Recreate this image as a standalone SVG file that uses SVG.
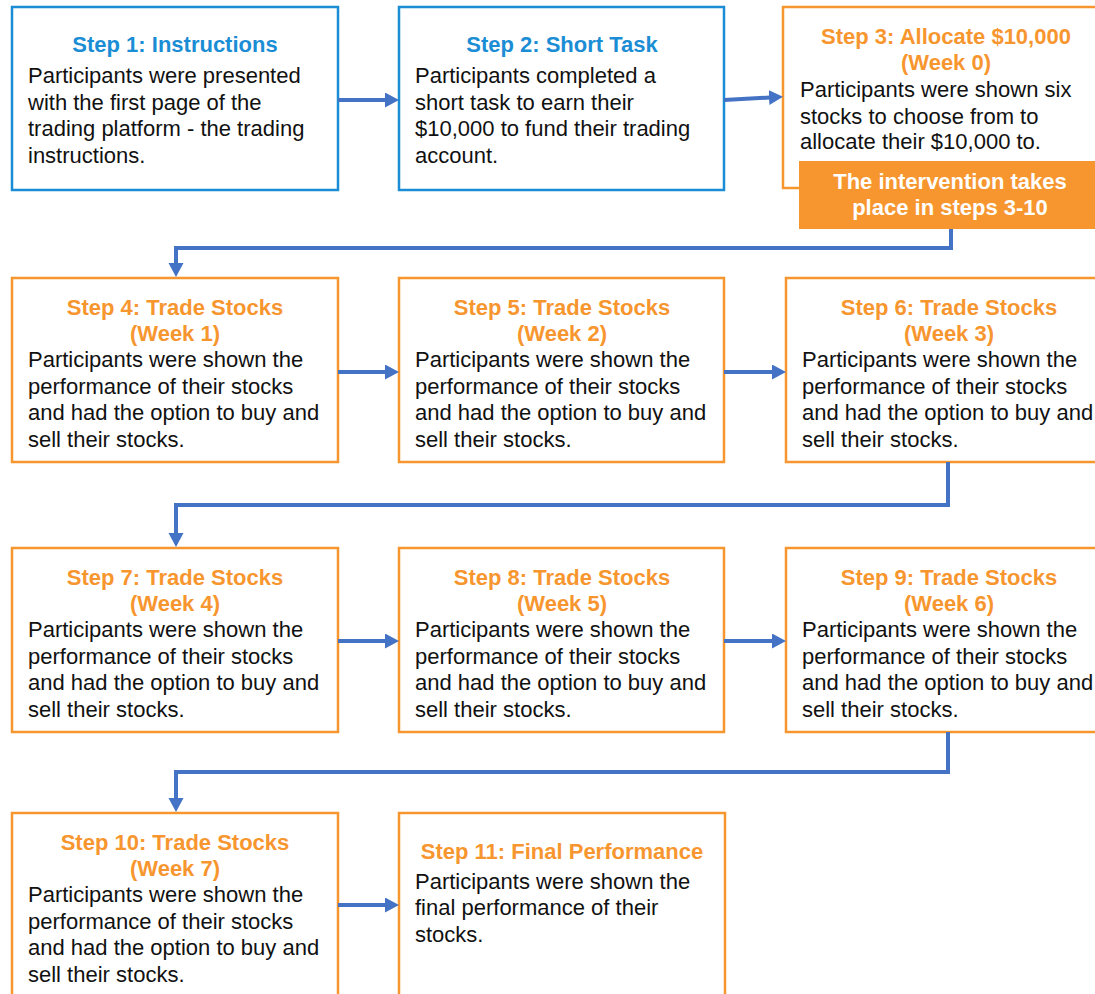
<svg xmlns="http://www.w3.org/2000/svg" width="1095" height="994" viewBox="0 0 1095 994">
<style>
.box{fill:#fff;stroke-width:2.5}
.bl{stroke:#1B8DD5}
.or{stroke:#F7962F}
.t{font-family:"Liberation Sans",Arial,sans-serif;font-size:22px;font-weight:bold;text-anchor:middle}
.tb{fill:#1B8DD5}
.to{fill:#F7962F}
.b{font-family:"Liberation Sans",Arial,sans-serif;font-size:22px;fill:#111}
.w{font-family:"Liberation Sans",Arial,sans-serif;font-size:22px;font-weight:bold;fill:#fff;text-anchor:middle}
.c{fill:none;stroke:#4472C4;stroke-width:4}
</style>
<defs>
<marker id="ah" markerUnits="userSpaceOnUse" markerWidth="16" markerHeight="16" refX="1" refY="7.5" orient="auto">
<path d="M0,0 L14,7.5 L0,15 z" fill="#4472C4"/>
</marker>
</defs>
<rect width="1095" height="994" fill="#fff"/>
<g id="step1">
<rect class="box bl" x="12" y="7" width="326" height="183"/>
<text class="t tb" x="175" y="52">Step 1: Instructions</text>
<text class="b" x="28" y="83">Participants were presented</text>
<text class="b" x="28" y="110">with the first page of the</text>
<text class="b" x="28" y="136">trading platform - the trading</text>
<text class="b" x="28" y="163">instructions.</text>
</g>
<g id="step2">
<rect class="box bl" x="399" y="7" width="325" height="183"/>
<text class="t tb" x="562" y="52">Step 2: Short Task</text>
<text class="b" x="415" y="83">Participants completed a</text>
<text class="b" x="415" y="110">short task to earn their</text>
<text class="b" x="415" y="136">$10,000 to fund their trading</text>
<text class="b" x="415" y="163">account.</text>
</g>
<g id="step3">
<rect class="box or" x="783" y="7" width="326" height="181"/>
<text class="t to" x="946" y="44">Step 3: Allocate $10,000</text>
<text class="t to" x="946" y="70">(Week 0)</text>
<text class="b" x="800" y="97">Participants were shown six</text>
<text class="b" x="800" y="124">stocks to choose from to</text>
<text class="b" x="800" y="149">allocate their $10,000 to.</text>
</g>
<g id="banner">
<rect x="799" y="161" width="302" height="68" fill="#F7962F"/>
<text class="w" x="950" y="189">The intervention takes</text>
<text class="w" x="950" y="215">place in steps 3-10</text>
</g>
<g id="step4">
<rect class="box or" x="12" y="278" width="326" height="184"/>
<text class="t to" x="175" y="315">Step 4: Trade Stocks</text>
<text class="t to" x="175" y="341">(Week 1)</text>
<text class="b" x="28" y="367">Participants were shown the</text>
<text class="b" x="28" y="394">performance of their stocks</text>
<text class="b" x="28" y="420">and had the option to buy and</text>
<text class="b" x="28" y="447">sell their stocks.</text>
</g>
<g id="step5">
<rect class="box or" x="399" y="278" width="325" height="184"/>
<text class="t to" x="562" y="315">Step 5: Trade Stocks</text>
<text class="t to" x="562" y="341">(Week 2)</text>
<text class="b" x="415" y="367">Participants were shown the</text>
<text class="b" x="415" y="394">performance of their stocks</text>
<text class="b" x="415" y="420">and had the option to buy and</text>
<text class="b" x="415" y="447">sell their stocks.</text>
</g>
<g id="step6">
<rect class="box or" x="786" y="278" width="326" height="184"/>
<text class="t to" x="949" y="315">Step 6: Trade Stocks</text>
<text class="t to" x="949" y="341">(Week 3)</text>
<text class="b" x="802" y="367">Participants were shown the</text>
<text class="b" x="802" y="394">performance of their stocks</text>
<text class="b" x="802" y="420">and had the option to buy and</text>
<text class="b" x="802" y="447">sell their stocks.</text>
</g>
<g id="step7">
<rect class="box or" x="12" y="548" width="326" height="184"/>
<text class="t to" x="175" y="585">Step 7: Trade Stocks</text>
<text class="t to" x="175" y="611">(Week 4)</text>
<text class="b" x="28" y="637">Participants were shown the</text>
<text class="b" x="28" y="664">performance of their stocks</text>
<text class="b" x="28" y="690">and had the option to buy and</text>
<text class="b" x="28" y="717">sell their stocks.</text>
</g>
<g id="step8">
<rect class="box or" x="399" y="548" width="325" height="184"/>
<text class="t to" x="562" y="585">Step 8: Trade Stocks</text>
<text class="t to" x="562" y="611">(Week 5)</text>
<text class="b" x="415" y="637">Participants were shown the</text>
<text class="b" x="415" y="664">performance of their stocks</text>
<text class="b" x="415" y="690">and had the option to buy and</text>
<text class="b" x="415" y="717">sell their stocks.</text>
</g>
<g id="step9">
<rect class="box or" x="786" y="548" width="326" height="184"/>
<text class="t to" x="949" y="585">Step 9: Trade Stocks</text>
<text class="t to" x="949" y="611">(Week 6)</text>
<text class="b" x="802" y="637">Participants were shown the</text>
<text class="b" x="802" y="664">performance of their stocks</text>
<text class="b" x="802" y="690">and had the option to buy and</text>
<text class="b" x="802" y="717">sell their stocks.</text>
</g>
<g id="step10">
<rect class="box or" x="12" y="813" width="326" height="200"/>
<text class="t to" x="175" y="850">Step 10: Trade Stocks</text>
<text class="t to" x="175" y="876">(Week 7)</text>
<text class="b" x="28" y="902">Participants were shown the</text>
<text class="b" x="28" y="929">performance of their stocks</text>
<text class="b" x="28" y="955">and had the option to buy and</text>
<text class="b" x="28" y="982">sell their stocks.</text>
</g>
<g id="step11">
<rect class="box or" x="399" y="813" width="326" height="200"/>
<text class="t to" x="562" y="859">Step 11: Final Performance</text>
<text class="b" x="415" y="889">Participants were shown the</text>
<text class="b" x="415" y="915">final performance of their</text>
<text class="b" x="415" y="942">stocks.</text>
</g>
<g id="connectors">
<path class="c" d="M338,100 H386" marker-end="url(#ah)"/>
<path class="c" d="M724,100 L770,97.5" marker-end="url(#ah)"/>
<path class="c" d="M951,229 V248 H176 V264" marker-end="url(#ah)"/>
<path class="c" d="M338,372 H386" marker-end="url(#ah)"/>
<path class="c" d="M724,372 H773" marker-end="url(#ah)"/>
<path class="c" d="M948,462 V505 H176 V534" marker-end="url(#ah)"/>
<path class="c" d="M338,641 H386" marker-end="url(#ah)"/>
<path class="c" d="M724,641 H773" marker-end="url(#ah)"/>
<path class="c" d="M948,732 V772 H176 V799" marker-end="url(#ah)"/>
<path class="c" d="M338,905 H386" marker-end="url(#ah)"/>
</g>
</svg>
